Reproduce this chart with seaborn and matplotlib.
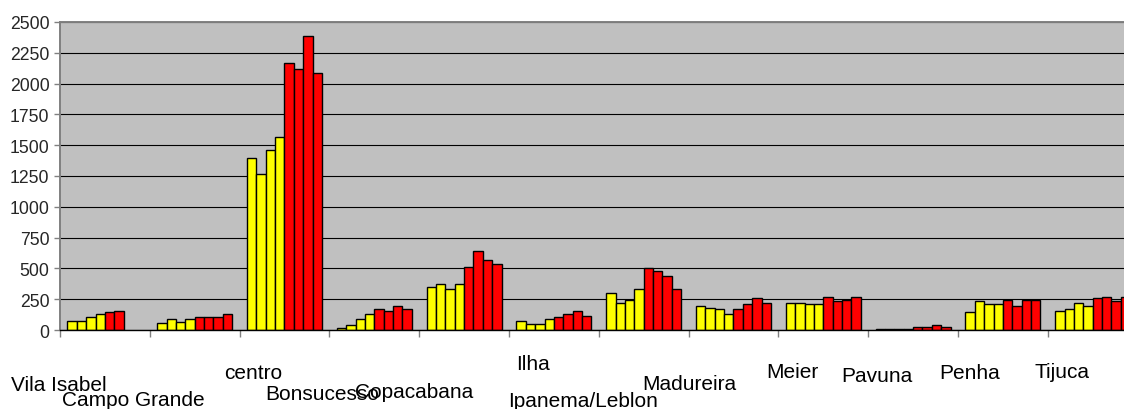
import numpy as np
import pandas as pd
import matplotlib
matplotlib.use("Agg")
import matplotlib.pyplot as plt
import seaborn as sns
from matplotlib.transforms import blended_transform_factory, ScaledTranslation

# ---------------- data ----------------
regions = ["Vila Isabel", "Campo Grande", "centro", "Bonsucesso", "Copacabana", "Ilha",
           "Ipanema/Leblon", "Madureira", "Meier", "Pavuna", "Penha", "Tijuca"]

series_names = ["A1", "A2", "A3", "A4", "V1", "V2", "V3", "V4"]

yellow_1 = [76, 54, 1395, 15, 346, 76, 297, 195, 222, 10, 143, 157]
yellow_2 = [76, 89, 1270, 38, 373, 49, 222, 181, 222, 10, 232, 170]
yellow_3 = [103, 68, 1462, 89, 332, 49, 243, 168, 208, 10, 208, 222]
yellow_4 = [130, 89, 1565, 130, 373, 89, 332, 130, 208, 12, 208, 195]
red_1 = [143, 103, 2165, 168, 514, 103, 503, 168, 270, 28, 246, 259]
red_2 = [154, 103, 2116, 151, 641, 130, 476, 208, 235, 28, 195, 270]
red_3 = [np.nan, 103, 2386, 192, 565, 154, 438, 257, 246, 42, 246, 235]
red_4 = [np.nan, 130, 2089, 168, 538, 116, 335, 222, 270, 28, 246, 270]

y_ticks = [0, 250, 500, 750, 1000, 1250, 1500, 1750, 2000, 2250, 2500]

# ---------------- layout / style ----------------
W, H, DPI = 1124, 410, 100
colors = ["#FFFF00"] * 4 + ["#FF0000"] * 4
# per-label horizontal offset (px, from group centre) and cap-centre height (px from top)
LABEL_DX_PX = [-46, -61, -31, -52, -50, -21, -61, -44, -31, -36, -33, -31]
LABEL_Y_PX = [384, 399, 372, 393, 391, 363, 400, 383, 371, 375, 372, 371]

series_values = [yellow_1, yellow_2, yellow_3, yellow_4, red_1, red_2, red_3, red_4]
rows = []
for name, vals in zip(series_names, series_values):
    for reg, v in zip(regions, vals):
        rows.append({"region": reg, "series": name, "value": v})
df = pd.DataFrame(rows)

sns.set_style("white")
plt.rcParams["font.family"] = ["Liberation Sans", "DejaVu Sans"]

fig = plt.figure(figsize=(W / DPI, H / DPI), dpi=DPI)
left_px, top_px, bottom_px = 60, 23, 331
group_px = 89.8
ax = fig.add_axes([left_px / W, 1 - bottom_px / H,
                   group_px * len(regions) / W, (bottom_px - top_px) / H])
ax.set_facecolor("#C0C0C0")

sns.barplot(data=df, x="region", y="value", hue="series", order=regions,
            hue_order=series_names, palette=colors, width=0.835,
            edgecolor="black", linewidth=1.0, errorbar=None, legend=False,
            saturation=1, ax=ax)

ax.set_xlim(-0.5, len(regions) - 0.5)
ax.set_ylim(0, 2500)
ax.set_yticks(y_ticks)
ax.set_yticklabels([str(v) for v in y_ticks], fontsize=12.7)
ax.set_xticks(np.arange(-0.5, len(regions), 1.0))
ax.set_xticklabels([])
ax.set_xlabel("")
ax.set_ylabel("")

ax.yaxis.grid(True, color="black", linewidth=0.8)
ax.xaxis.grid(False)
ax.set_axisbelow(True)

for s in ["left", "top"]:
    ax.spines[s].set_color("#808080")
    ax.spines[s].set_linewidth(1.4)
ax.spines["right"].set_visible(False)
ax.spines["bottom"].set_color("black")
ax.spines["bottom"].set_linewidth(1.0)

ax.tick_params(axis="y", direction="out", length=4, width=1, color="#808080", pad=3.5, left=True)
ax.tick_params(axis="x", direction="out", length=5, width=1, color="#808080", bottom=True)

trans = blended_transform_factory(ax.transData, fig.transFigure)
for i, (name, dx, ypx) in enumerate(zip(regions, LABEL_DX_PX, LABEL_Y_PX)):
    tr = trans + ScaledTranslation(dx / DPI, 0, fig.dpi_scale_trans)
    ax.text(i, 1 - (ypx + 7.5) / H, name, transform=tr, ha="center",
            va="baseline", fontsize=15, color="black", clip_on=False)

fig.savefig("out.png", dpi=DPI)
